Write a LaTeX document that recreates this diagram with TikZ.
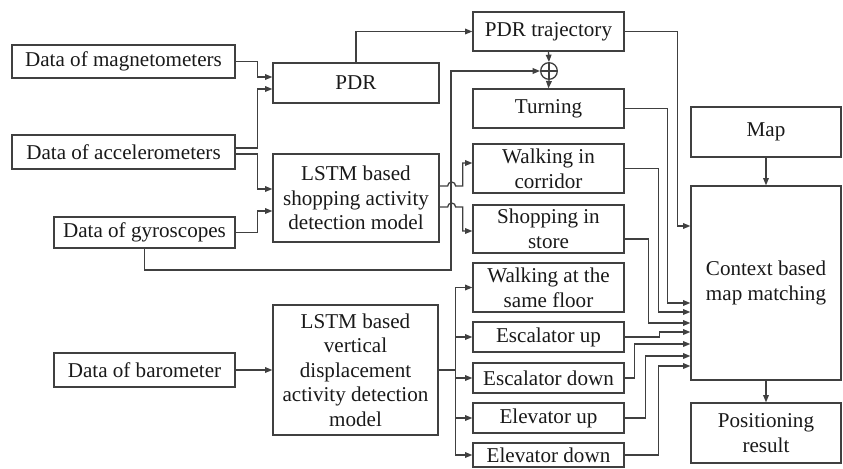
\documentclass[tikz,border=0pt]{standalone}
\usepackage{fontspec}
\setmainfont{Liberation Serif}
\usepackage{tikz}
\usetikzlibrary{arrows.meta}

\begin{document}
\begin{tikzpicture}[x=0.03cm, y=-0.03cm,
            font=\fontsize{18}{21}\selectfont,
            box/.style={draw=black!75, line width=1.1pt, rectangle, inner sep=0pt, align=center, text=black!90},
            inbox/.style={box, minimum width=6.69cm},
            outbox/.style={box, minimum width=4.53cm},
            arr/.style={-{Triangle[length=2.2mm,width=1.7mm]}, draw=black!75, line width=1.1pt}]
            \useasboundingbox (0,0) rectangle (843,468);

            \node[inbox, minimum height=0.99cm] (mag) at (123.5,61.5) {Data of magnetometers};
            \node[inbox, minimum height=1.02cm] (acc) at (123.5,152) {Data of accelerometers};
            \node[box, minimum width=5.43cm, minimum height=0.93cm] (gyro) at (144.5,232.5) {Data of gyroscopes};
            \node[box, minimum width=5.43cm, minimum height=1.02cm] (baro) at (144.5,370) {Data of barometer};

            \node[box, minimum width=4.98cm, minimum height=1.2cm] (pdr) at (356,83) {PDR};
            \node[box, minimum width=4.98cm, minimum height=2.64cm] (lstmshop) at (356,198) {LSTM based\\shopping activity\\detection model};
            \node[box, minimum width=4.95cm, minimum height=3.9cm] (lstmvert) at (355.5,370) {LSTM based\\vertical\\displacement\\activity detection\\model};

            \node[outbox, minimum height=1.17cm] (traj) at (548.5,31.5) {PDR trajectory};
            \node[circle, draw=black!75, line width=1.1pt, minimum size=0.5cm, inner sep=0pt] (oplus) at (549,71) {};
            \draw[draw=black!75, line width=1.1pt] (oplus.north) -- (oplus.south) (oplus.west) -- (oplus.east);
            \node[outbox, minimum height=1.17cm] (turn) at (548.5,108.5) {Turning};
            \node[outbox, minimum height=1.47cm] (corridor) at (548.5,168.5) {Walking in\\corridor};
            \node[outbox, minimum height=1.44cm] (store) at (548.5,229) {Shopping in\\store};
            \node[outbox, minimum height=1.47cm] (samefloor) at (548.5,287.5) {Walking at the\\same floor};
            \node[outbox, minimum height=0.9cm] (escup) at (548.5,337) {Escalator up};
            \node[outbox, minimum height=0.9cm] (escdown) at (548.5,378) {Escalator down};
            \node[outbox, minimum height=0.9cm] (elevup) at (548.5,418) {Elevator up};
            \node[outbox, minimum height=0.72cm] (elevdown) at (548.5,455) {Elevator down};

            \node[box, minimum width=4.5cm, minimum height=1.5cm] (map) at (766,132) {Map};
            \node[box, minimum width=4.5cm, minimum height=5.82cm] (ctx) at (766,283) {Context based\\map matching};
            \node[box, minimum width=4.5cm, minimum height=1.8cm] (pos) at (766,433) {Positioning\\result};

            \coordinate (gyrobus) at (451,270);

            \draw[arr] (mag.east) -- ++(22,0) |- ([yshift=0.18cm]pdr.west);
            \draw[arr] ([yshift=0.12cm]acc.east) -- ++(22,0) |- ([yshift=-0.18cm]pdr.west);
            \draw[arr] ([yshift=-0.06cm]acc.east) -- ++(22,0) |- ([yshift=0.27cm]lstmshop.west);
            \draw[arr] (gyro.east) -- ++(22,0) |- ([yshift=-0.39cm]lstmshop.west);
            \draw[arr] (gyro.south) |- (gyrobus) |- (oplus.west);

            \draw[arr] (pdr.north) |- (traj.west);
            \draw[arr] (traj.south) -- (oplus.north);
            \draw[arr] (oplus.south) -- (turn.north);

            \draw[arr] ([yshift=0.36cm]lstmshop.east) -- ++(8,0) arc[start angle=180, end angle=0, radius=0.12cm] -- ++(7,0) |- ([yshift=0.165cm]corridor.west);
            \draw[arr] ([yshift=-0.27cm]lstmshop.east) -- ++(8,0) arc[start angle=180, end angle=0, radius=0.12cm] -- ++(7,0) |- ([yshift=-0.06cm]store.west);

            \draw[arr] (baro) -- (lstmvert);
            \draw[draw=black!75, line width=1.1pt] (lstmvert.east) -- ++(17,0) coordinate (split);
            \draw[arr] (split) |- (samefloor.west);
            \draw[arr] (split) |- (escup.west);
            \draw[arr] (split) |- (escdown.west);
            \draw[arr] (split) |- (elevup.west);
            \draw[arr] (split) |- (elevdown.west);

            \draw[arr] (map) -- (ctx);
            \draw[arr] (ctx) -- (pos);

            \draw[arr] (traj.east) -- ++(53,0) |- ([yshift=1.71cm]ctx.west);
            \draw[arr] (turn.east) -- ++(43,0) |- ([yshift=-0.6cm]ctx.west);
            \draw[arr] (corridor.east) -- ++(34,0) |- ([yshift=-0.87cm]ctx.west);
            \draw[arr] ([yshift=-0.3cm]store.east) -- ++(24,0) |- ([yshift=-1.2cm]ctx.west);
            \draw[arr] (escup.east) -- ++(35,0) |- ([yshift=-1.47cm]ctx.west);
            \draw[arr] (escdown.east) -- ++(10,0) |- ([yshift=-1.83cm]ctx.west);
            \draw[arr] (elevup.east) -- ++(21,0) |- ([yshift=-2.19cm]ctx.west);
            \draw[arr] (elevdown.east) -- ++(34,0) |- ([yshift=-2.49cm]ctx.west);
        \end{tikzpicture}
\end{document}
